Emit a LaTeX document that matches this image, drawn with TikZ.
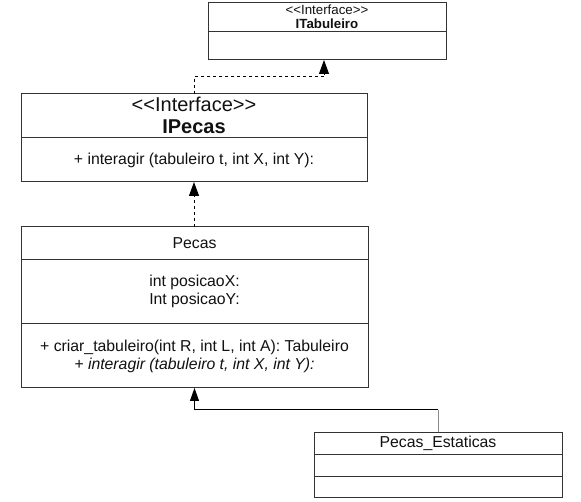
\documentclass[tikz,border=0pt]{standalone}
\usepackage{fontspec}
\setmainfont{Liberation Sans}
\usetikzlibrary{arrows.meta}
\definecolor{linecol}{HTML}{333333}
\definecolor{graycol}{HTML}{888888}
\definecolor{txtcol}{HTML}{111111}
\tikzset{
  umlbox/.style={draw=linecol, line width=1pt, inner sep=0pt, outer sep=0pt, fill=white},
  txt/.style={inner sep=0pt, text=txtcol, align=center, font=\fontsize{15.8}{18}\selectfont},
  bigtxt/.style={inner sep=0pt, text=txtcol, align=center, font=\fontsize{20}{22}\selectfont},
  smalltxt/.style={inner sep=0pt, text=txtcol, align=center, font=\fontsize{13.3}{15}\selectfont},
  divider/.style={draw=linecol, line width=1pt},
  realize/.style={draw=black, line width=1pt, dash pattern=on 3pt off 3pt, -{Triangle[length=14pt,width=10pt]}},
  inherit/.style={draw=black, line width=1pt, -{Triangle[length=13pt,width=9pt]}}
}
\begin{document}
\begin{tikzpicture}[x=1pt,y=-1pt]
\useasboundingbox (0,0) rectangle (581,502);
% ITabuleiro
\node[umlbox, minimum width=238pt, minimum height=57pt] (itab) at (327,31.5) {};
\draw[divider] (208,32) -- (446,32);
\node[smalltxt] (itabst) at (327,10) {\textless{}\textless{}Interface\textgreater{}\textgreater{}};
\node[smalltxt, font=\fontsize{13.3}{15}\selectfont\bfseries] (itabname) at (327,24) {ITabuleiro};
% IPecas
\node[umlbox, minimum width=346pt, minimum height=88pt] (ipecas) at (194,138) {};
\draw[divider] (21,138) -- (367,138);
\node[bigtxt] (ipst) at (194,104) {\textless{}\textless{}Interface\textgreater{}\textgreater{}};
\node[bigtxt, font=\fontsize{20}{22}\selectfont\bfseries] (ipname) at (194,127) {IPecas};
\node[txt] (ipm) at (194,160) {+ interagir (tabuleiro t, int X, int Y):};
% Pecas
\node[umlbox, minimum width=347pt, minimum height=161pt] (pecas) at (194.5,307.5) {};
\draw[divider] (21,260) -- (368,260);
\draw[divider] (21,324) -- (368,324);
\node[txt] (pname) at (194.5,243) {Pecas};
\node[txt] (pattr) at (194.5,291) {int posicaoX:\\Int posicaoY:};
\node[txt] (pmeth) at (194.5,356) {+ criar\_tabuleiro(int R, int L, int A): Tabuleiro\\\textit{+ interagir (tabuleiro t, int X, int Y):}};
% Pecas_Estaticas
\node[umlbox, minimum width=248pt, minimum height=65pt] (pe) at (438,464.5) {};
\draw[divider] (314,454) -- (562,454);
\draw[divider] (314,476) -- (562,476);
\node[txt] (pename) at (438,443) {Pecas\_Estaticas};
% connectors
\coordinate (j1) at (324,77);
\draw[realize] (ipecas.north) |- (j1) -- (j1 |- itab.south);
\draw[realize] (pecas.north -| ipecas.south) -- (ipecas.south);
\coordinate (j2) at (194.5,410);
\draw[draw=graycol, line width=1pt] (pe.north) -- (pe.north |- j2);
\draw[inherit] (pe.north |- j2) -- (j2) -- (pecas.south);
\end{tikzpicture}
\end{document}
